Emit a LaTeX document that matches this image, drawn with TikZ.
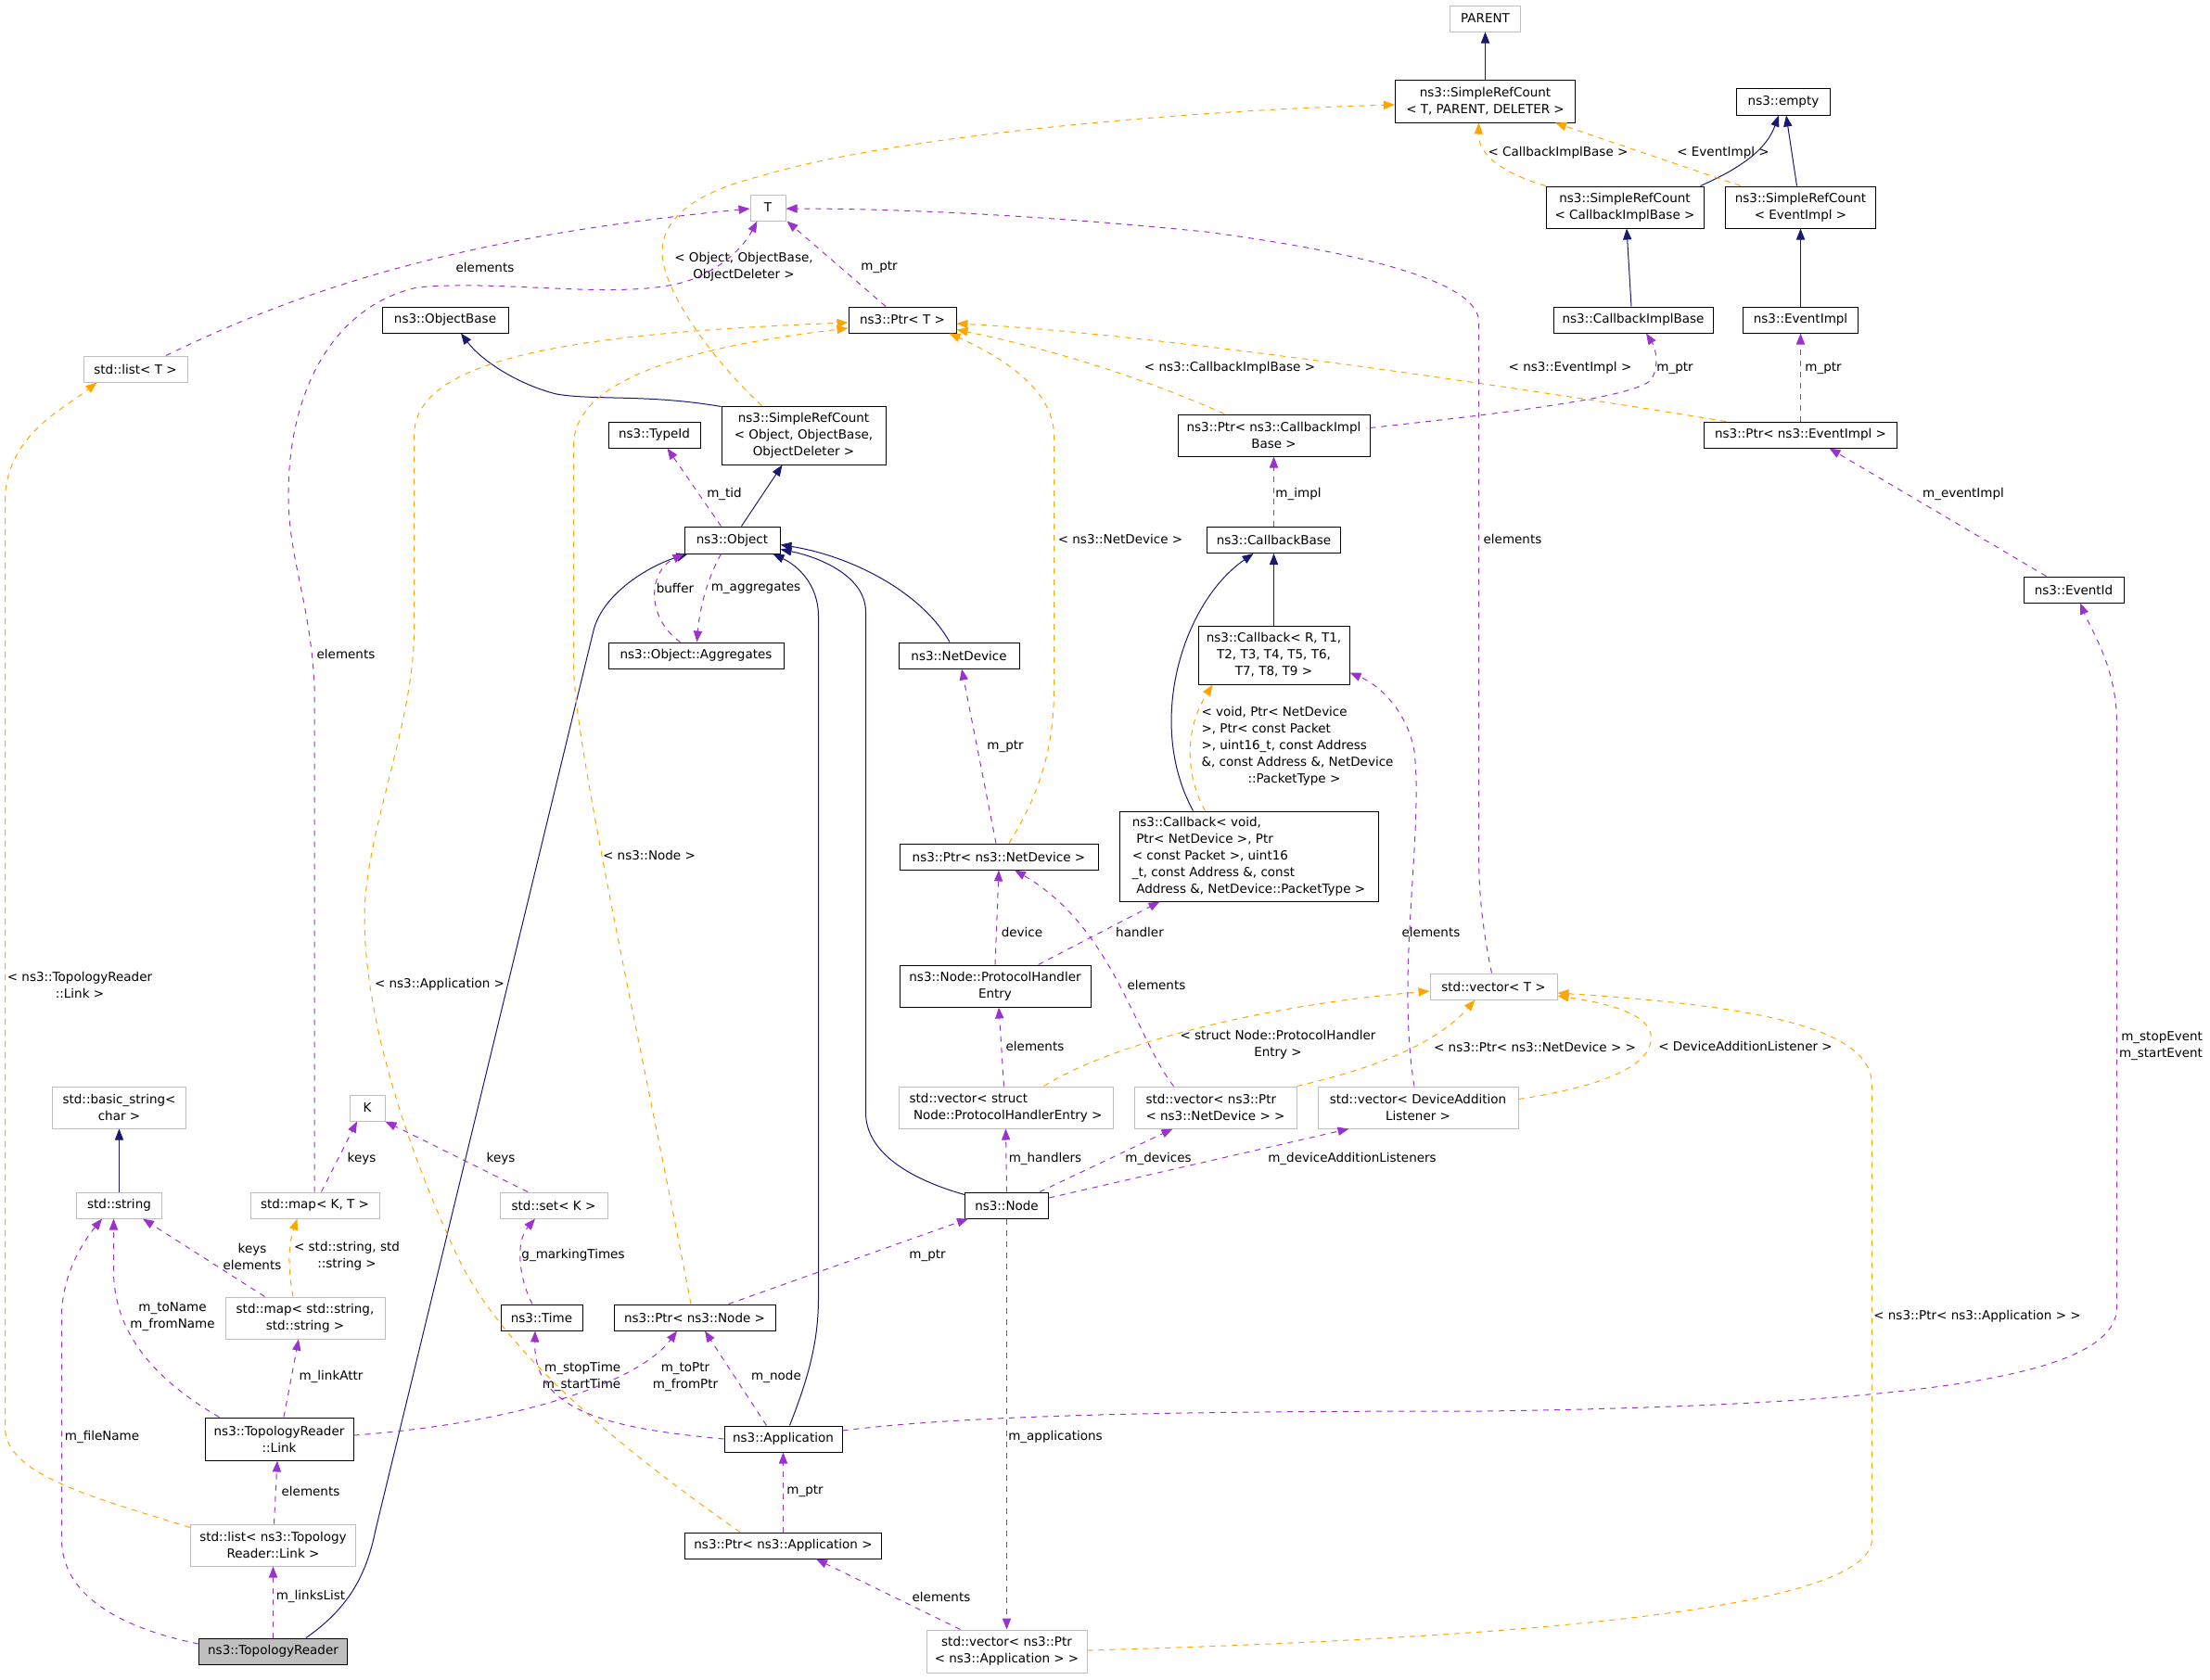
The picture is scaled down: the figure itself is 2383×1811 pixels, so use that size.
\documentclass[tikz,border=0pt]{standalone}
\usepackage{fontspec}
\setmainfont{DejaVu Sans}
\usetikzlibrary{arrows.meta,calc}
\definecolor{inhc}{HTML}{191970}
\definecolor{usec}{HTML}{9A32CD}
\definecolor{tplc}{HTML}{FFA500}
\definecolor{gbord}{HTML}{BFBFBF}
\begin{document}
\begin{tikzpicture}[x=0.5pt,y=-0.5pt,
  every node/.style={font=\fontsize{6.75pt}{9pt}\selectfont},
  cls/.style={draw=black, fill=white, line width=0.5pt, inner sep=1pt, align=center},
  ext/.style={draw=gbord, fill=white, line width=0.5pt, inner sep=1pt, align=center},
  wh/.style 2 args={minimum width=#1*0.5pt, minimum height=#2*0.5pt},
  inh/.style={draw=inhc, line width=0.5pt, -{Triangle[length=6pt,width=4.6pt]}},
  use/.style={draw=usec, line width=0.5pt, dash pattern=on 3pt off 3pt, -{Triangle[length=6pt,width=4.6pt]}},
  tpl/.style={draw=tplc, line width=0.5pt, dash pattern=on 3pt off 3pt, -{Triangle[length=6pt,width=4.6pt]}},
  lbl/.style={inner sep=0pt, align=center}]
\useasboundingbox (0,0) rectangle (2383,1811);
% ---------- nodes ----------
\node[ext,wh={76}{28}] (parent) at (1601.5,20) {PARENT};
\node[cls,wh={194}{46}] (srcT) at (1601.5,109) {ns3::SimpleRefCount\\< T, PARENT, DELETER >};
\node[cls,wh={101}{29}] (empty) at (1923,109.5) {ns3::empty};
\node[cls,wh={170}{45}] (srcCIB) at (1752,223.5) {ns3::SimpleRefCount\\< CallbackImplBase >};
\node[cls,wh={162}{45}] (srcEI) at (1941.5,223.5) {ns3::SimpleRefCount\\< EventImpl >};
\node[cls,wh={172}{28}] (cib) at (1761,345) {ns3::CallbackImplBase};
\node[cls,wh={124}{28}] (ei) at (1941.5,345) {ns3::EventImpl};
\node[cls,wh={208}{28}] (ptrEI) at (1941.5,469) {ns3::Ptr< ns3::EventImpl >};
\node[cls,wh={108}{28}] (eventid) at (2236,636) {ns3::EventId};
\node[ext,wh={38}{28}] (T) at (828,224) {T};
\node[cls,wh={116}{28}] (ptrT) at (973,345) {ns3::Ptr< T >};
\node[cls,wh={177}{63}] (srcObj) at (866.5,469.5) {ns3::SimpleRefCount\\< Object, ObjectBase,\\ObjectDeleter >};
\node[cls,wh={207}{45}] (ptrCIB) at (1373.5,469.5) {ns3::Ptr< ns3::CallbackImpl\\Base >};
\node[cls,wh={144}{28}] (cbb) at (1373.5,582.5) {ns3::CallbackBase};
\node[cls,wh={103}{29}] (object) at (789.5,582.5) {ns3::Object};
\node[cls,wh={136}{28}] (objbase) at (480,345) {ns3::ObjectBase};
\node[ext,wh={112}{28}] (listT) at (146,398) {std::list< T >};
\node[cls,wh={99}{28}] (typeid) at (705.5,469) {ns3::TypeId};
\node[cls,wh={189}{28}] (aggr) at (750.5,707) {ns3::Object::Aggregates};
\node[cls,wh={130}{28}] (netdev) at (1034,707) {ns3::NetDevice};
\node[cls,wh={163}{63}] (cbR) at (1373.5,706.5) {ns3::Callback< R, T1,\\T2, T3, T4, T5, T6,\\T7, T8, T9 >};
\node[cls,wh={214}{28}] (ptrND) at (1077,924) {ns3::Ptr< ns3::NetDevice >};
\node[cls,wh={279}{97},align=left] (cbV) at (1346.5,923.5) {ns3::Callback< void,\\\hspace*{2.2pt}Ptr< NetDevice >, Ptr\\< const Packet >, uint16\\\_t, const Address \&, const\\\hspace*{2.2pt}Address \&, NetDevice::PacketType >};
\node[cls,wh={206}{45}] (phe) at (1073,1063.5) {ns3::Node::ProtocolHandler\\Entry};
\node[ext,wh={231}{45},align=left] (vecPHE) at (1084.5,1194.5) {std::vector< struct\\\hspace*{2.2pt}Node::ProtocolHandlerEntry >};
\node[ext,wh={175}{45},align=left] (vecPND) at (1310.5,1194.5) {std::vector< ns3::Ptr\\< ns3::NetDevice > >};
\node[ext,wh={216}{45}] (vecDAL) at (1529,1194.5) {std::vector< DeviceAddition\\Listener >};
\node[ext,wh={137}{28}] (vecT) at (1610.5,1064) {std::vector< T >};
\node[ext,wh={144}{45}] (basicstr) at (128.5,1194.5) {std::basic\_string<\\char >};
\node[ext,wh={38}{28}] (K) at (396,1195) {K};
\node[ext,wh={92}{28}] (string) at (128.5,1300) {std::string};
\node[ext,wh={139}{28}] (mapKT) at (339.5,1300) {std::map< K, T >};
\node[ext,wh={116}{28}] (setK) at (597,1300) {std::set< K >};
\node[ext,wh={172}{45}] (mapSS) at (329,1421.5) {std::map< std::string,\\std::string >};
\node[cls,wh={88}{28}] (time) at (584,1421) {ns3::Time};
\node[cls,wh={174}{28}] (ptrNode) at (749,1421) {ns3::Ptr< ns3::Node >};
\node[cls,wh={160}{46}] (link) at (301,1552) {ns3::TopologyReader\\::Link};
\node[ext,wh={178}{45}] (listLink) at (294.5,1666.5) {std::list< ns3::Topology\\Reader::Link >};
\node[cls,fill=gbord,wh={160}{28}] (topo) at (294.5,1781) {ns3::TopologyReader};
\node[cls,wh={90}{28}] (node) at (1085.5,1300) {ns3::Node};
\node[cls,wh={127}{28}] (app) at (844.5,1552) {ns3::Application};
\node[cls,wh={212}{28}] (ptrApp) at (844.5,1667) {ns3::Ptr< ns3::Application >};
\node[ext,wh={173}{46}] (vecApp) at (1085.5,1781) {std::vector< ns3::Ptr\\< ns3::Application > >};
% ---------- labels ----------
\node[lbl] (l01) at (1680,165) {< CallbackImplBase >};
\node[lbl] (l02) at (1858,165) {< EventImpl >};
\node[lbl] (l03) at (1966,397) {m\_ptr};
\node[lbl] (l04) at (1693,397) {< ns3::EventImpl >};
\node[lbl] (l05) at (1806,397) {m\_ptr};
\node[lbl] (l06) at (1326,397) {< ns3::CallbackImplBase >};
\node[lbl] (l07) at (1400,533) {m\_impl};
\node[lbl,align=left] (l08) at (1399,805) {< void, Ptr< NetDevice\\>, Ptr< const Packet\\>, uint16\_t, const Address\\\&, const Address \&, NetDevice\\\hspace*{25pt}::PacketType >};
\node[lbl] (l09) at (1543,1005) {elements};
\node[lbl] (l10) at (1084,805) {m\_ptr};
\node[lbl] (l11) at (1208,581) {< ns3::NetDevice >};
\node[lbl] (l12) at (728,634) {buffer};
\node[lbl] (l13) at (815,634) {m\_aggregates};
\node[lbl] (l14) at (781,533) {m\_tid};
\node[lbl] (l15) at (802,288) {< Object, ObjectBase,\\ObjectDeleter >};
\node[lbl] (l16) at (948,288) {m\_ptr};
\node[lbl] (l17) at (1631,581) {elements};
\node[lbl] (l18) at (523,288) {elements};
\node[lbl] (l19) at (373,705) {elements};
\node[lbl] (l20) at (1378,1127) {< struct Node::ProtocolHandler\\Entry >};
\node[lbl] (l21) at (1655,1129) {< ns3::Ptr< ns3::NetDevice > >};
\node[lbl] (l22) at (1882,1128) {< DeviceAdditionListener >};
\node[lbl] (l23) at (2132,1420) {< ns3::Ptr< ns3::Application > >};
\node[lbl] (l24) at (1116,1128) {elements};
\node[lbl] (l25) at (1102,1005) {device};
\node[lbl] (l26) at (1229,1005) {handler};
\node[lbl] (l27) at (1247,1062) {elements};
\node[lbl] (l28) at (1127,1250) {m\_handlers};
\node[lbl] (l29) at (1249,1250) {m\_devices};
\node[lbl] (l30) at (1458,1250) {m\_deviceAdditionListeners};
\node[lbl] (l31) at (1138,1550) {m\_applications};
\node[lbl] (l32) at (1000,1354) {m\_ptr};
\node[lbl] (l33) at (700,922) {< ns3::Node >};
\node[lbl] (l34) at (474,1062) {< ns3::Application >};
\node[lbl] (l35) at (86,1062) {< ns3::TopologyReader\\::Link >};
\node[lbl] (l36) at (110,1550) {m\_fileName};
\node[lbl] (l37) at (186,1420) {m\_toName\\m\_fromName};
\node[lbl] (l38) at (272,1355) {keys\\elements};
\node[lbl] (l39) at (374,1355) {< std::string, std\\::string >};
\node[lbl] (l40) at (390,1250) {keys};
\node[lbl] (l41) at (540,1250) {keys};
\node[lbl] (l42) at (618,1354) {g\_markingTimes};
\node[lbl] (l43) at (357,1485) {m\_linkAttr};
\node[lbl] (l44) at (335,1608) {elements};
\node[lbl] (l45) at (335,1722) {m\_linksList};
\node[lbl] (l46) at (739,1485) {m\_toPtr\\m\_fromPtr};
\node[lbl] (l47) at (837,1485) {m\_node};
\node[lbl,align=right] (l48) at (627,1485) {m\_stopTime\\m\_startTime};
\node[lbl,align=right] (l49) at (2330,1128) {m\_stopEvent\\m\_startEvent};
\node[lbl] (l50) at (868,1608) {m\_ptr};
\node[lbl] (l51) at (1015,1722) {elements};
\node[lbl] (l52) at (2117,533) {m\_eventImpl};
% ---------- inheritance ----------
\draw[inh] (srcT.north) -- (parent.south);
\draw[inh] ($(srcCIB.north east)+(-4,0)$) .. controls (1880,180) and (1905,160) .. ($(empty.south)+(-5,0)$);
\draw[inh] ($(srcEI.north)+(-4,0)$) -- ($(empty.south)+(3,0)$);
\draw[inh] ($(cib.north)+(-2,0)$) -- ($(srcCIB.south)+(2,0)$);
\draw[inh] (ei.north) -- (srcEI.south);
\draw[inh] (cbR.north) -- (cbb.south);
\draw[inh] ($(cbV.north west)+(80,0)$) .. controls (1235,780) and (1275,650) .. ($(cbb.south)+(-22,0)$);
\draw[inh] ($(netdev.north)+(-10,0)$) .. controls (995,640) and (920,600) .. ($(object.east)+(0,5)$);
\draw[inh] ($(node.north west)+(0,3)$) .. controls (975,1270) and (933.5,1240) .. (933.5,1200) -- (933.5,660) .. controls (933.5,620) and (880,600) .. ($(object.south east)+(0,-5)$);
\draw[inh] ($(app.north)+(7,0)$) .. controls (870,1490) and (882.5,1450) .. (882.5,1400) -- (882.5,665) .. controls (882.5,630) and (860,610) .. ($(object.south east)+(-8,0)$);
\draw[inh] ($(topo.north east)+(-45,0)$) .. controls (375,1735) and (395,1700) .. (405,1650) -- (640,680) .. controls (650,640) and (700,610) .. ($(object.south west)+(4,0)$);
\draw[inh] ($(srcObj.north west)+(0,1)$) .. controls (700,425) and (640,432) .. (600,425) .. controls (560,415) and (520,390) .. ($(objbase.south)+(17,0)$);
\draw[inh] ($(object.north)+(10,0)$) -- ($(srcObj.south)+(-23,0)$);
\draw[inh] (string.north) -- (basicstr.south);
% ---------- template instances ----------
\draw[tpl] (srcCIB.north west) .. controls (1615,185) and (1594,165) .. ($(srcT.south)+(-7,0)$);
\draw[tpl] ($(srcEI.north west)+(17,0)$) -- ($(srcT.south east)+(-22,0)$);
\draw[tpl] ($(ptrEI.north west)+(24,0)$) .. controls (1650,420) and (1250,360) .. ($(ptrT.east)+(0,4)$);
\draw[tpl] ($(ptrCIB.north)+(-53,0)$) .. controls (1250,415) and (1150,380) .. ($(ptrT.south east)+(0,-4)$);
\draw[tpl] ($(cbV.north west)+(93,0)$) .. controls (1280,840) and (1275,790) .. ($(cbR.south west)+(16,0)$);
\draw[tpl] ($(ptrND.north)+(11,0)$) .. controls (1125,850) and (1136.5,800) .. (1136.5,740) -- (1136.5,470) .. controls (1136.5,420) and (1080,385) .. ($(ptrT.south east)+(-8,0)$);
\draw[tpl] ($(srcObj.north west)+(44,0)$) .. controls (780,400) and (715,320) .. (714,272) .. controls (714,230) and (760,205) .. (820,190) .. controls (950,150) and (1250,120) .. ($(srcT.west)+(0,4)$);
\draw[tpl] ($(vecPHE.north)+(41,0)$) .. controls (1190,1130) and (1350,1085) .. ($(vecT.west)+(0,5)$);
\draw[tpl] (vecPND.north east) .. controls (1470,1155) and (1545,1130) .. ($(vecT.south west)+(49,0)$);
\draw[tpl] ($(vecDAL.east)+(0,-9)$) .. controls (1740,1170) and (1785,1145) .. (1780,1115) .. controls (1775,1090) and (1720,1080) .. ($(vecT.east)+(0,10)$);
\draw[tpl] ($(vecApp.east)+(0,-1)$) .. controls (1700,1765) and (2018.5,1730) .. (2018.5,1660) -- (2018.5,1170) .. controls (2018.5,1110) and (1900,1085) .. ($(vecT.east)+(0,7)$);
\draw[tpl] ($(ptrNode.north)+(-4,0)$) .. controls (690,1120) and (618.5,800) .. (618.5,717) -- (618.5,480) .. controls (618.5,400) and (780,370) .. ($(ptrT.west)+(0,9)$);
\draw[tpl] ($(ptrApp.north west)+(60,0)$) .. controls (680,1570) and (540,1460) .. (490,1348) .. controls (440,1240) and (393,1100) .. (393,989) .. controls (393,900) and (446.5,780) .. (446.5,680) -- (446.5,470) .. controls (446.5,390) and (600,360) .. ($(ptrT.west)+(0,3)$);
\draw[tpl] ($(listLink.west)+(0,-19)$) .. controls (100,1615) and (5.5,1590) .. (5.5,1540) -- (5.5,540) .. controls (5.5,470) and (70,440) .. ($(listT.south west)+(15,0)$);
\draw[tpl] ($(mapSS.north)+(-13,0)$) .. controls (311,1370) and (310,1345) .. ($(mapKT.south)+(-19,0)$);
% ---------- usage ----------
\draw[use] (ptrEI.north) -- (ei.south);
\draw[use] ($(ptrCIB.east)+(0,-8)$) .. controls (1600,448) and (1760,430) .. (1780,410) .. controls (1790,395) and (1785,375) .. ($(cib.south)+(14,0)$);
\draw[use] (cbb.north) -- (ptrCIB.south);
\draw[use] ($(vecDAL.north)+(-4,0)$) .. controls (1505,1050) and (1535,900) .. (1525,810) .. controls (1518,770) and (1490,740) .. ($(cbR.south east)+(0,-13)$);
\draw[use] ($(ptrND.north)+(-3,0)$) -- ($(netdev.south)+(3,0)$);
\draw[use] ($(aggr.north)+(-17,0)$) .. controls (695,665) and (700,615) .. (object.south west);
\draw[use] ($(object.south)+(-12,0)$) .. controls (765,620) and (755,650) .. ($(aggr.north)+(1,0)$);
\draw[use] ($(object.north)+(-12,0)$) -- ($(typeid.south)+(14,0)$);
\draw[use] ($(ptrT.north)+(-18,0)$) -- ($(T.south east)+(1,0)$);
\draw[use] ($(vecT.north)+(-2,0)$) .. controls (1598,1000) and (1594.5,960) .. (1594.5,920) -- (1594.5,345) .. controls (1590,300) and (1450,270) .. (1300,250) .. controls (1100,230) and (950,225) .. ($(T.east)+(0,1)$);
\draw[use] ($(listT.north)+(33,0)$) .. controls (330,310) and (500,255) .. ($(T.west)+(0,1)$);
\draw[use] ($(mapKT.north)+(-0.5,0)$) -- (339,740) .. controls (335,650) and (310,600) .. (311,530) .. controls (312,420) and (360,330) .. (450,310) .. controls (550,300) and (700,330) .. (760,295) .. controls (790,280) and (805,260) .. ($(T.south west)+(8,0)$);
\draw[use] ($(vecPHE.north)+(-2,0)$) -- ($(phe.south)+(4,0)$);
\draw[use] (phe.north) -- (ptrND.south);
\draw[use] ($(phe.north east)+(-57,0)$) -- ($(cbV.south west)+(44,0)$);
\draw[use] ($(vecPND.north west)+(43,0)$) .. controls (1225,1120) and (1200,1000) .. ($(ptrND.south)+(17,0)$);
\draw[use] (node.north) -- (vecPHE.south);
\draw[use] ($(node.north east)+(-10,0)$) -- ($(vecPND.south)+(-46,0)$);
\draw[use] ($(node.east)+(0,-8)$) -- ($(vecDAL.south west)+(34,0)$);
\draw[use] (node.south) -- (vecApp.north);
\draw[use] ($(ptrNode.north east)+(-51,0)$) -- ($(node.south west)+(4,0)$);
\draw[use] ($(topo.west)+(0,-8)$) .. controls (150,1760) and (66.5,1730) .. (66.5,1660) -- (66.5,1420) .. controls (66.5,1380) and (85,1345) .. ($(string.south west)+(28,0)$);
\draw[use] ($(link.north west)+(16,0)$) .. controls (170,1490) and (122.5,1440) .. (122.5,1370) -- ($(string.south)+(-6,0)$);
\draw[use] ($(mapSS.north west)+(43,0)$) -- ($(string.south east)+(-21,0)$);
\draw[use] ($(mapKT.north)+(7,0)$) -- ($(K.south)+(-11,0)$);
\draw[use] ($(setK.north)+(-28,0)$) -- (K.south east);
\draw[use] ($(time.north)+(-10,0)$) .. controls (560,1380) and (555,1340) .. ($(setK.south)+(-20,0)$);
\draw[use] ($(link.north)+(5,0)$) -- ($(mapSS.south)+(-7,0)$);
\draw[use] ($(listLink.north)+(1,0)$) -- ($(link.south)+(-2,0)$);
\draw[use] (topo.north) -- (listLink.south);
\draw[use] ($(link.east)+(0,-4)$) .. controls (560,1535) and (690,1490) .. ($(ptrNode.south)+(-19,0)$);
\draw[use] ($(app.north west)+(46,0)$) -- ($(ptrNode.south)+(11,0)$);
\draw[use] (app.west) .. controls (650,1540) and (575,1520) .. ($(time.south)+(-7,0)$);
\draw[use] ($(app.east)+(0,-9)$) .. controls (1050,1525) and (1300,1522) .. (1600,1522) .. controls (2100,1515) and (2282.5,1480) .. (2282.5,1410) -- (2282.5,780) .. controls (2282.5,720) and (2255,680) .. ($(eventid.south)+(7,0)$);
\draw[use] (ptrApp.north) -- (app.south);
\draw[use] ($(vecApp.north west)+(37,0)$) -- ($(ptrApp.south east)+(-71,0)$);
\draw[use] ($(eventid.north west)+(25,0)$) -- ($(ptrEI.south)+(31,0)$);
\end{tikzpicture}
\end{document}
